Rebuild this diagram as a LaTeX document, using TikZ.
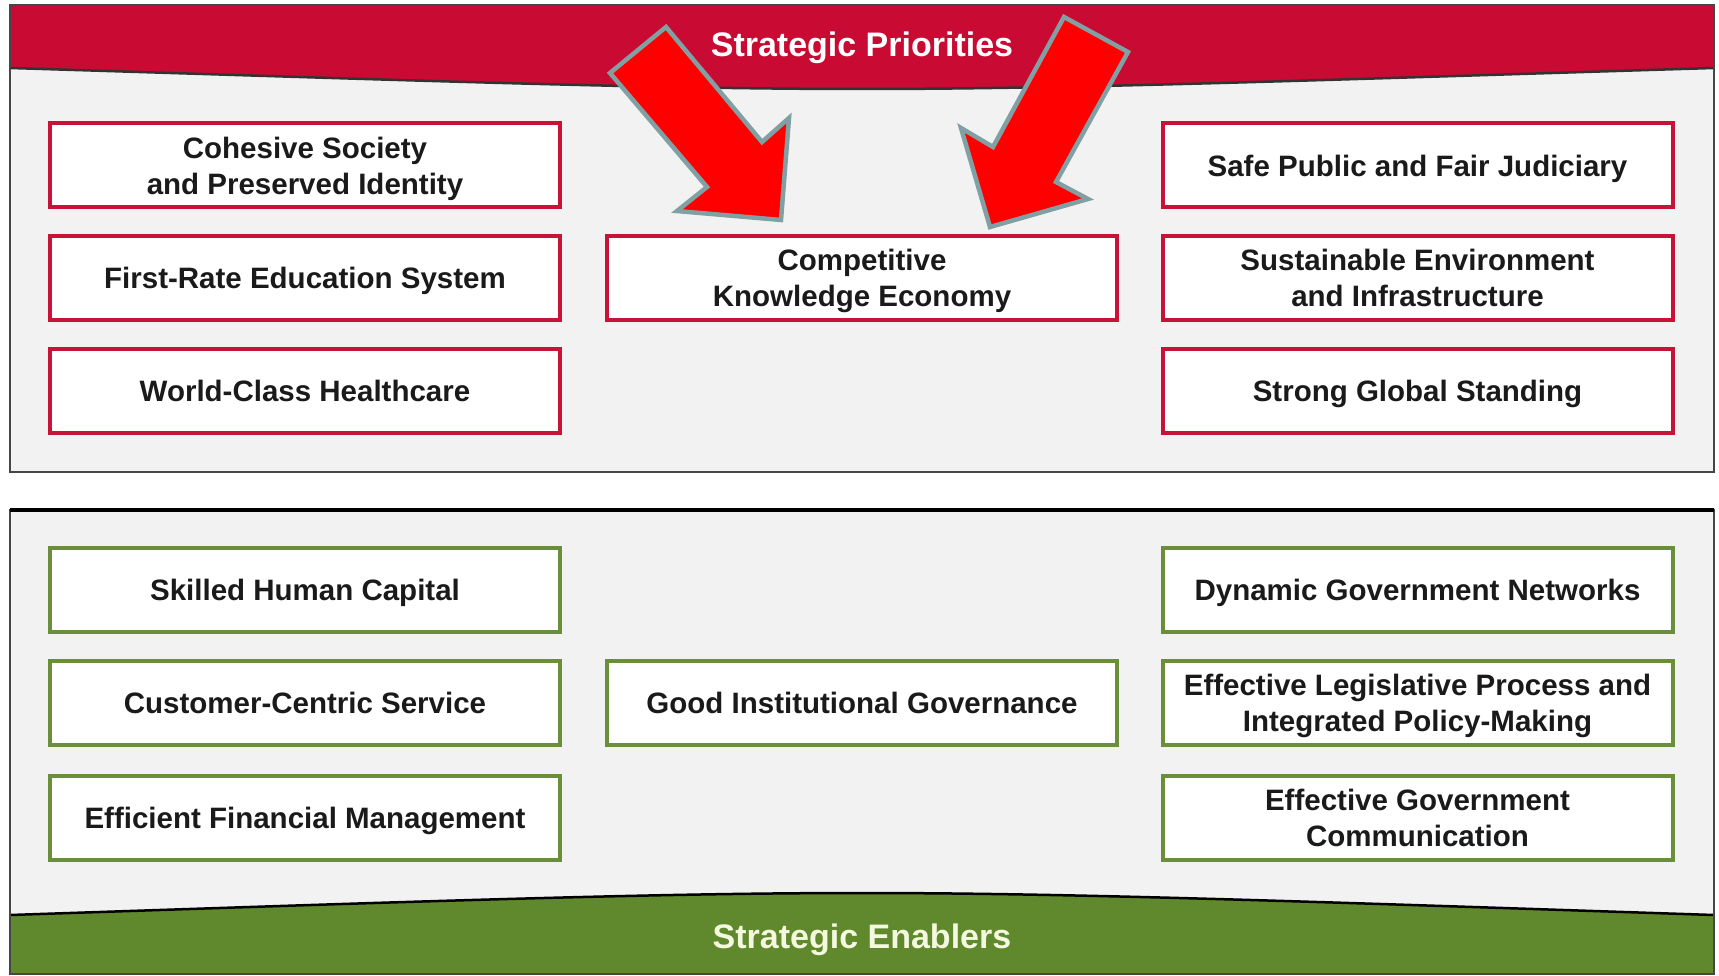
\documentclass[tikz,border=0pt]{standalone}
\usepackage{fontspec}
\setmainfont{Liberation Sans}
\definecolor{bannerred}{RGB}{201,10,50}
\definecolor{boxred}{RGB}{200,18,56}
\definecolor{bannergreen}{RGB}{96,137,45}
\definecolor{boxgreen}{RGB}{107,142,58}
\definecolor{panelbg}{RGB}{242,242,242}
\definecolor{panelline}{RGB}{70,70,70}
\definecolor{arrowline}{RGB}{128,160,163}
\definecolor{txt}{RGB}{26,26,26}
\definecolor{paleyellow}{RGB}{244,248,222}
\newcommand\boxtext[1]{\raisebox{-3.5pt}[\height][\depth]{\begin{tabular}{@{}c@{}}#1\end{tabular}}}
\begin{document}
\begin{tikzpicture}[x=1pt,y=-1pt,
  basebox/.style={rectangle, fill=white, line width=4pt, minimum width=510pt,
    minimum height=84pt, text=txt, inner sep=0pt,
    font=\fontsize{29.5}{36}\selectfont\bfseries},
  pbox/.style={basebox, draw=boxred},
  ebox/.style={basebox, draw=boxgreen},
  title/.style={font=\fontsize{34}{40}\selectfont\bfseries, inner sep=0pt},
  bigarrow/.style={fill=red, draw=arrowline, line width=4.5pt, line join=miter}
]
\useasboundingbox (0,0) rectangle (1719,976);
\fill[white] (0,0) rectangle (1719,976);

% ---------- top panel ----------
\fill[panelbg] (10,5) rectangle (1714,472);
\fill[bannerred] (10,5) -- (1714,5) -- (1714,68)
  .. controls (1320,80) and (1075,89) .. (862,89)
  .. controls (650,89) and (400,80) .. (10,68) -- cycle;
\draw[black!80, line width=2.5pt] (10,68)
  .. controls (400,80) and (650,89) .. (862,89)
  .. controls (1075,89) and (1320,80) .. (1714,68);
\draw[panelline, line width=2.5pt] (10,5) rectangle (1714,472);
\node[title, text=white] (sp) at (862,47.5) {Strategic Priorities};

\node[pbox] (cohesive) at (305,165.5) {\boxtext{Cohesive Society\\and Preserved Identity}};
\node[pbox] (education) at (305,278) {\boxtext{First-Rate Education System}};
\node[pbox] (health) at (305,391) {\boxtext{World-Class Healthcare}};
\node[pbox] (economy) at (862,278) {\boxtext{Competitive\\Knowledge Economy}};
\node[pbox] (safe) at (1417.5,165.5) {\boxtext{Safe Public and Fair Judiciary}};
\node[pbox] (sustain) at (1417.5,278) {\boxtext{Sustainable Environment\\and Infrastructure}};
\node[pbox] (global) at (1417.5,391) {\boxtext{Strong Global Standing}};

% ---------- bottom panel ----------
\fill[panelbg] (10,510) rectangle (1714,974);
\fill[bannergreen] (10,915)
  .. controls (400,902) and (650,893) .. (862,893)
  .. controls (1075,893) and (1320,902) .. (1714,915)
  -- (1714,974) -- (10,974) -- cycle;
\draw[black, line width=2.5pt] (10,915)
  .. controls (400,902) and (650,893) .. (862,893)
  .. controls (1075,893) and (1320,902) .. (1714,915);
\draw[panelline, line width=2.5pt] (10,510) rectangle (1714,974);
\draw[black, line width=3.5pt] (10,510) -- (1714,510);
\node[title, text=paleyellow] (se) at (862,939.5) {Strategic Enablers};

\node[ebox] (human) at (305,589.5) {\boxtext{Skilled Human Capital}};
\node[ebox] (customer) at (305,703) {\boxtext{Customer-Centric Service}};
\node[ebox] (finance) at (305,818) {\boxtext{Efficient Financial Management}};
\node[ebox] (governance) at (862,703) {\boxtext{Good Institutional Governance}};
\node[ebox] (networks) at (1417.5,589.5) {\boxtext{Dynamic Government Networks}};
\node[ebox] (legis) at (1417.5,703) {\boxtext{Effective Legislative Process and\\Integrated Policy-Making}};
\node[ebox] (comm) at (1417.5,818) {\boxtext{Effective Government\\Communication}};

% ---------- arrows ----------
\draw[bigarrow] (666,27) -- (762,142) -- (789,118) -- (781,220)
  -- (677,211) -- (707,187) -- (610,73) -- cycle;
\draw[bigarrow] (1064,17) -- (1128,52) -- (1056,182) -- (1088,199)
  -- (990,227) -- (961,128) -- (993,147) -- cycle;
\end{tikzpicture}
\end{document}
